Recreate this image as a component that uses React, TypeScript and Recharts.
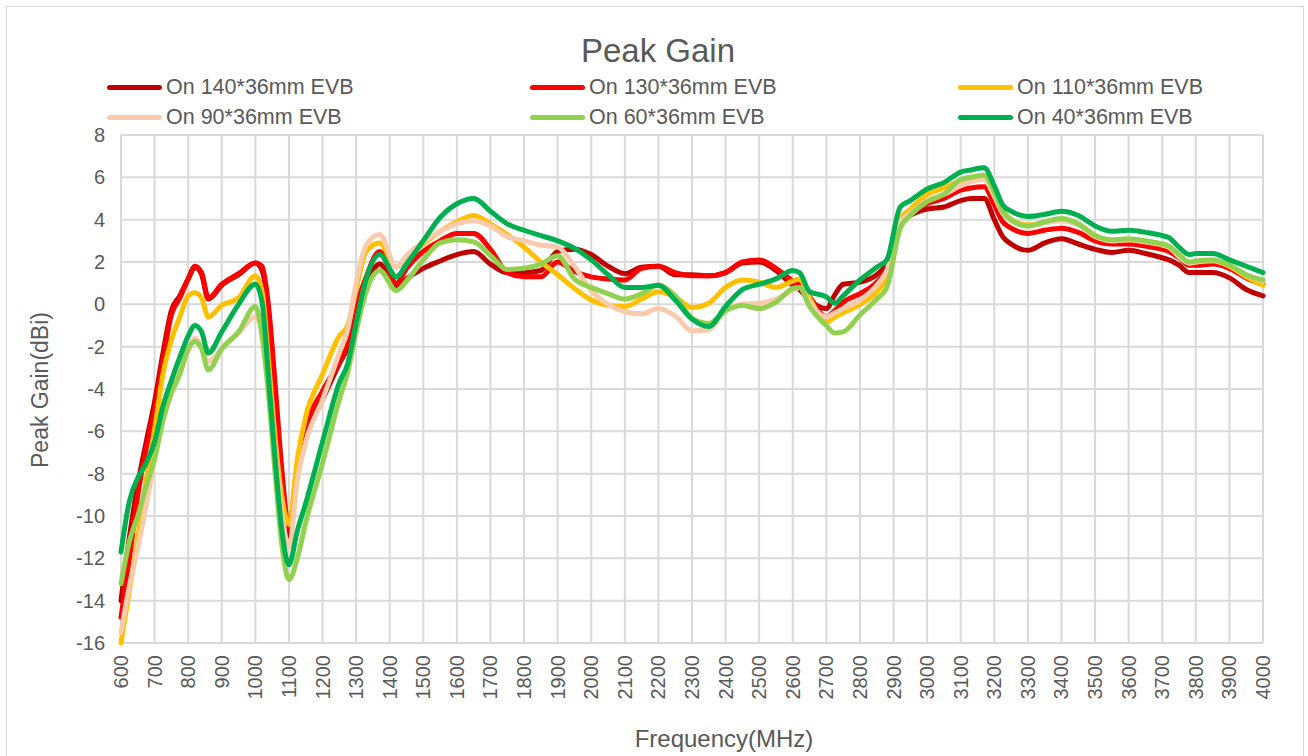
import { LineChart, Line, XAxis, YAxis, CartesianGrid } from 'recharts';

// frequency points (MHz) the curves were read at
const freqMHz = [
  600, 625, 650, 675, 700, 725, 750, 775, 800, 820, 840, 860, 900, 950, 1000, 1020, 1040, 1060, 1080, 1100,
  1125, 1150, 1200, 1250, 1275, 1300, 1330, 1370, 1420, 1450, 1500, 1550, 1600, 1650, 1700, 1750, 1800, 1850, 1900, 1950,
  2000, 2050, 2100, 2150, 2200, 2250, 2300, 2350, 2400, 2450, 2500, 2550, 2600, 2620, 2650, 2700, 2725, 2750, 2800, 2850,
  2880, 2920, 2950, 3000, 3050, 3100, 3130, 3170, 3200, 3225, 3250, 3300, 3350, 3400, 3450, 3500, 3550, 3600, 3650, 3700,
  3720, 3750, 3780, 3800, 3850, 3900, 3950, 4000,
];

const gain140 = [
  -14.0, -11.0, -8.5, -6.5, -4.6, -2.3, -0.3, 0.4, 1.2, 1.75, 1.4, 0.25, 0.9, 1.4, 1.95, 1.6, -0.5, -4.5, -8.5, -11.0,
  -8.0, -6.3, -4.5, -2.8, -2.0, -0.3, 0.9, 1.9, 0.8, 1.2, 1.7, 2.05, 2.35, 2.5, 1.9, 1.5, 1.5, 1.6, 2.5, 2.6,
  2.35, 1.8, 1.45, 1.75, 1.8, 1.4, 1.4, 1.35, 1.5, 1.95, 2.0, 1.6, 0.9, 0.7, 0.2, -0.2, 0.45, 0.95, 1.05, 1.4,
  1.9, 3.8, 4.2, 4.5, 4.6, 4.9, 5.0, 5.0, 4.0, 3.2, 2.85, 2.55, 2.9, 3.1, 2.85, 2.6, 2.45, 2.55, 2.4, 2.2,
  2.1, 1.85, 1.5, 1.5, 1.5, 1.25, 0.7, 0.4,
];

const gain130 = [
  -14.8, -12.0, -9.0, -6.8, -5.0, -2.6, -0.5, 0.3, 1.2, 1.8, 1.5, 0.3, 0.95, 1.45, 1.95, 1.8, -0.2, -4.0, -8.0, -10.6,
  -7.6, -5.8, -4.1, -2.7, -1.8, -0.1, 1.3, 2.5, 1.0, 1.7, 2.5, 3.0, 3.35, 3.35, 2.6, 1.5, 1.3, 1.3, 2.0, 1.55,
  1.3, 1.2, 1.15, 1.7, 1.8, 1.5, 1.35, 1.35, 1.5, 2.0, 2.1, 1.7, 1.1, 0.9, 0.35, -0.6, -0.3, 0.1, 0.5, 1.05,
  1.65, 3.9, 4.35, 4.75, 5.0, 5.4, 5.5, 5.55, 4.7, 3.9, 3.6, 3.35, 3.5, 3.6, 3.4, 3.0, 2.85, 2.85, 2.75, 2.6,
  2.5, 2.2, 1.85, 1.85, 1.9, 1.7, 1.25, 0.95,
];

const gain110 = [
  -16.0, -13.5, -11.0, -8.3, -5.9, -3.3, -1.7, -0.6, 0.4, 0.55, 0.3, -0.6, -0.05, 0.3, 1.35, 0.6, -2.8, -6.5, -9.2, -10.4,
  -7.3, -5.3, -3.3, -1.5, -1.0, 0.7, 2.5, 2.9, 1.75, 2.2, 2.85, 3.45, 3.9, 4.2, 3.8, 3.3, 2.7, 2.0, 1.4, 0.75,
  0.2, -0.05, -0.1, 0.25, 0.6, 0.35, -0.15, 0.05, 0.8, 1.15, 1.05, 0.8, 1.1, 1.2, 0.3, -0.85, -0.6, -0.4, 0.0, 0.6,
  1.3, 4.0, 4.5, 5.2, 5.5, 5.85, 6.0, 6.05, 5.2, 4.4, 4.0, 3.75, 3.85, 4.0, 3.8, 3.25, 3.0, 3.05, 2.95, 2.85,
  2.7, 2.3, 1.95, 2.0, 2.05, 1.8, 1.3, 0.9,
];

const gain90 = [
  -15.5, -13.3, -11.5, -9.5, -7.3, -5.3, -4.0, -3.2, -2.2, -1.6, -2.0, -2.7, -2.1, -1.35, -0.6, -1.2, -3.8, -7.2, -10.0, -11.5,
  -8.3, -6.5, -4.5, -2.3, -1.2, 1.0, 2.8, 3.3, 1.75, 2.3, 2.95, 3.45, 3.8, 3.95, 3.7, 3.2, 3.0, 2.8, 2.7, 1.8,
  0.65, 0.0, -0.35, -0.45, -0.2, -0.55, -1.25, -1.2, -0.3, 0.0, 0.05, 0.25, 0.65, 0.8, 0.1, -0.6, -0.4, -0.2, 0.2, 0.9,
  1.6, 3.9, 4.3, 4.9, 5.2, 5.6, 5.8, 5.9, 5.1, 4.3, 3.95, 3.7, 3.85, 3.95, 3.75, 3.2, 3.0, 3.05, 2.95, 2.8,
  2.7, 2.25, 1.95, 2.0, 2.1, 1.85, 1.4, 1.1,
];

const gain60 = [
  -13.2, -11.2, -10.0, -8.6, -7.3, -5.5, -4.2, -3.3, -2.1, -1.75, -2.1, -3.1, -2.1, -1.3, -0.1, -1.5, -4.4, -8.2, -11.5, -13.0,
  -12.0, -10.3, -7.5, -4.5, -3.2, -1.3, 0.6, 1.6, 0.65, 1.1, 2.1, 2.9, 3.05, 2.95, 2.3, 1.65, 1.7, 1.9, 2.3, 1.2,
  0.8, 0.5, 0.25, 0.5, 0.9, 0.4, -0.65, -0.9, -0.3, -0.05, -0.2, 0.1, 0.75, 0.8, -0.1, -1.0, -1.35, -1.3, -0.5, 0.25,
  0.8, 3.6, 4.2, 4.85, 5.2, 5.9, 6.0, 6.1, 5.3, 4.4, 4.0, 3.7, 3.9, 4.05, 3.8, 3.25, 3.05, 3.1, 3.0, 2.85,
  2.75, 2.35, 2.0, 2.05, 2.1, 1.85, 1.4, 1.15,
];

const gain40 = [
  -11.7, -9.3, -8.2, -7.5, -6.5, -4.8, -3.6, -2.5, -1.5, -1.0, -1.3, -2.3, -1.3, 0.0, 0.95, 0.1, -3.6, -7.5, -10.8, -12.3,
  -10.7, -9.4, -6.5, -3.7, -2.8, -0.9, 1.2, 2.35, 1.3, 1.9, 3.0, 4.1, 4.75, 5.0, 4.4, 3.8, 3.5, 3.25, 3.0, 2.65,
  2.1, 1.4, 0.8, 0.8, 0.9, 0.2, -0.7, -1.05, -0.1, 0.7, 0.95, 1.2, 1.6, 1.5, 0.6, 0.35, 0.05, 0.4, 1.15, 1.75,
  2.1, 4.6, 4.9, 5.45, 5.75, 6.25, 6.35, 6.45, 5.6, 4.7, 4.4, 4.15, 4.25, 4.4, 4.2, 3.7, 3.45, 3.5, 3.4, 3.25,
  3.15, 2.7, 2.35, 2.4, 2.4, 2.1, 1.8, 1.5,
];

const xTicks = [
  600, 700, 800, 900, 1000, 1100, 1200, 1300, 1400, 1500, 1600, 1700, 1800, 1900, 2000, 2100, 2200, 2300,
  2400, 2500, 2600, 2700, 2800, 2900, 3000, 3100, 3200, 3300, 3400, 3500, 3600, 3700, 3800, 3900, 4000,
];
const yTicks = [-16, -14, -12, -10, -8, -6, -4, -2, 0, 2, 4, 6, 8];

const series = [
  { key: 'g140', name: 'On 140*36mm EVB', values: gain140, color: '#C00000' },
  { key: 'g130', name: 'On 130*36mm EVB', values: gain130, color: '#FF0000' },
  { key: 'g110', name: 'On 110*36mm EVB', values: gain110, color: '#FFC000' },
  { key: 'g90', name: 'On 90*36mm EVB', values: gain90, color: '#F8CBAD' },
  { key: 'g60', name: 'On 60*36mm EVB', values: gain60, color: '#92D050' },
  { key: 'g40', name: 'On 40*36mm EVB', values: gain40, color: '#00B050' },
];

const rows = freqMHz.map((f, i) => {
  const row: Record<string, number> = { f };
  series.forEach((s) => { row[s.key] = s.values[i]; });
  return row;
});

const textColor = '#595959';
const font = '"Liberation Sans", Arial, sans-serif';

const XTick = ({ x, y, payload }: any) => (
  <text
    x={x}
    y={y}
    transform={`rotate(-90 ${x} ${y})`}
    textAnchor="end"
    dy="0.35em"
    fill={textColor}
    fontSize={20}
    fontFamily={font}
  >
    {payload.value}
  </text>
);

// legend columns / rows as in the source sheet
const legendCols = [107, 530, 958];
const legendRows = [87, 117];

export default function App() {
  return (
    <div style={{ position: 'absolute', left: 0, top: 0, width: 1308, height: 756, background: '#fff', overflow: 'hidden', fontFamily: font }}>
      <div style={{ position: 'absolute', left: 6, top: 6, width: 1298, height: 760, border: '1.5px solid #d9d9d9', boxSizing: 'border-box' }} />
      <div style={{ position: 'absolute', left: 0, width: 1308, top: 31, textAlign: 'center', fontSize: 33, color: textColor, lineHeight: '40px', paddingLeft: 4 }}>
        Peak Gain
      </div>
      {series.map((s, i) => {
        const left = legendCols[i % 3];
        const top = legendRows[Math.floor(i / 3)];
        return (
          <div key={s.key} style={{ position: 'absolute', left, top: top - 13, height: 26, display: 'flex', alignItems: 'center' }}>
            <div style={{ width: 55, height: 5, borderRadius: 3, background: s.color, marginRight: 4 }} />
            <span style={{ fontSize: 21.5, color: textColor, whiteSpace: 'nowrap' }}>{s.name}</span>
          </div>
        );
      })}
      <div style={{ position: 'absolute', left: 0, top: 0 }}>
        <LineChart width={1308} height={756} data={rows} margin={{ top: 135, right: 45, bottom: 53, left: 61 }}>
          <CartesianGrid stroke="#d9d9d9" strokeWidth={2} />
          <XAxis
            dataKey="f"
            type="number"
            domain={[600, 4000]}
            ticks={xTicks}
            interval={0}
            height={60}
            axisLine={false}
            tickLine={false}
            tickSize={0}
            tickMargin={12}
            tick={<XTick />}
          />
          <YAxis
            type="number"
            domain={[-16, 8]}
            ticks={yTicks}
            interval={0}
            width={60}
            axisLine={false}
            tickLine={false}
            tickSize={0}
            tickMargin={16}
            tick={{ fill: textColor, fontSize: 20, fontFamily: font }}
          />
          {series.map((s) => (
            <Line
              key={s.key}
              type="monotone"
              dataKey={s.key}
              name={s.name}
              stroke={s.color}
              strokeWidth={5}
              dot={false}
              strokeLinecap="round"
              strokeLinejoin="round"
              isAnimationActive={false}
            />
          ))}
        </LineChart>
      </div>
      <div style={{ position: 'absolute', left: 0, width: 1448, top: 725, textAlign: 'center', fontSize: 24, color: textColor }}>
        Frequency(MHz)
      </div>
      <div
        style={{
          position: 'absolute', left: 40, top: 390, fontSize: 23, color: textColor, whiteSpace: 'nowrap',
          transform: 'translate(-50%, -50%) rotate(-90deg)',
        }}
      >
        Peak Gain(dBi)
      </div>
    </div>
  );
}
